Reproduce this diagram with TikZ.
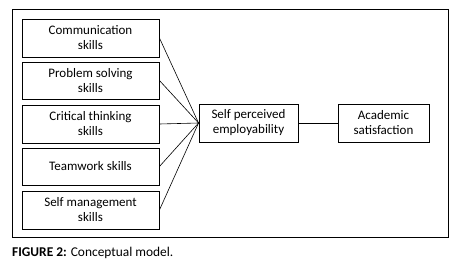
\documentclass[tikz,border=0pt]{standalone}
\usepackage{fontspec}
\setmainfont{Carlito}
\begin{document}
\begin{tikzpicture}[x=1pt,y=-1pt,
  box/.style={draw,line width=0.9pt,align=center,font=\fontsize{13}{15}\selectfont,inner sep=0pt},
  link/.style={line width=0.6pt}]
\useasboundingbox (0,0) rectangle (458,267);
\draw[line width=0.9pt] (12,9) rectangle (448,237);
\node[box,minimum width=137pt,minimum height=38pt] (c1) at (90.5,38) {Communication\\skills};
\node[box,minimum width=137pt,minimum height=37pt] (c2) at (90.5,80.5) {Problem solving\\skills};
\node[box,minimum width=137pt,minimum height=38pt] (c3) at (90.5,124) {Critical thinking\\skills};
\node[box,minimum width=137pt,minimum height=37pt] (c4) at (90.5,166.5) {Teamwork skills};
\node[box,minimum width=137pt,minimum height=38pt] (c5) at (90.5,210) {Self management\\skills};
\node[box,minimum width=99pt,minimum height=38pt] (sp) at (248.5,123) {Self perceived\\employability};
\node[box,minimum width=91pt,minimum height=38pt] (as) at (383.5,123) {Academic\\satisfaction};
\foreach \n in {c1,c2,c3,c4,c5} \draw[link] (\n.east) -- (sp.west);
\draw[link] (sp.east) -- (as.west);
\node[anchor=west,font=\fontsize{13.4}{15}\selectfont,inner sep=0pt] (cap) at (12,253) {\textbf{FIGURE 2:} Conceptual model.};
\end{tikzpicture}
\end{document}
